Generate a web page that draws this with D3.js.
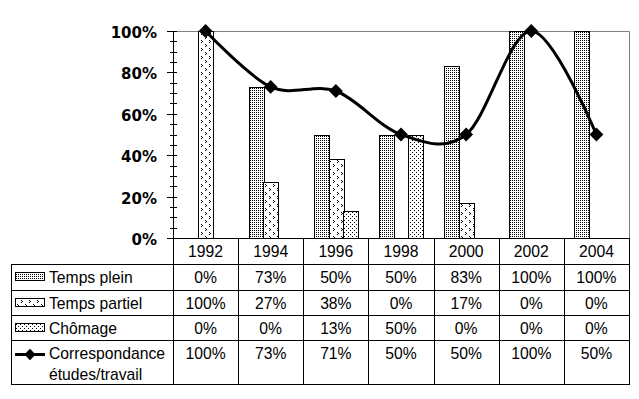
<!DOCTYPE html>
<html>
<head>
<meta charset="utf-8">
<script src="https://cdn.jsdelivr.net/npm/d3@7"></script>
<style>
  body { margin: 0; background: #fff; }
  svg { display: block; }
  .tbl text { font-family: "Liberation Sans", Arial, sans-serif; font-size: 15.7px; fill: #000; }
  .yax text { font-family: "DejaVu Sans", sans-serif; font-weight: bold; font-size: 15px; fill: #000; }
</style>
</head>
<body>
<script>
// data
var years = [ "1992", "1994", "1996", "1998", "2000", "2002", "2004" ];
var tempsPlein = [ 0, 0.73, 0.50, 0.50, 0.83, 1.00, 1.00 ];
var tempsPartiel = [ 1.00, 0.27, 0.38, 0, 0.17, 0, 0 ];
var chomage = [ 0, 0, 0.13, 0.50, 0, 0, 0 ];
var correspondance = [ 1.00, 0.73, 0.71, 0.50, 0.50, 1.00, 0.50 ];
var yTicks = [ 0, 0.2, 0.4, 0.6, 0.8, 1 ];

( function() {

var barSeries = [
  { name: "Temps plein", values: tempsPlein, fill: "url(#pPlein)" },
  { name: "Temps partiel", values: tempsPartiel, fill: "url(#pPartiel)" },
  { name: "Chômage", values: chomage, fill: "url(#pChomage)" }
];

var W = 639, H = 399;
var pLeft = 173, pRight = 629, pTop = 31, pBottom = 238;
var rowLines = [ 238, 264, 290, 315, 340, 384 ];
var tableLeft = 11;

var svg = d3.select( "body" ).append( "svg" ).attr( "width", W ).attr( "height", H );

// patterns
var defs = svg.append( "defs" );
function pattern( id, w, h, pixels ) {
  var p = defs.append( "pattern" ).attr( "id", id )
    .attr( "patternUnits", "userSpaceOnUse" ).attr( "width", w ).attr( "height", h );
  p.append( "rect" ).attr( "width", w ).attr( "height", h ).attr( "fill", "#fff" );
  pixels.forEach( function( px ) {
    p.append( "rect" ).attr( "x", px[ 0 ] ).attr( "y", px[ 1 ] )
      .attr( "width", 1 ).attr( "height", 1 ).attr( "fill", "#000" );
  } );
}
pattern( "pPlein", 2, 2, [ [ 0, 0 ] ] );
pattern( "pChomage", 4, 4, [ [ 0, 0 ], [ 2, 2 ] ] );
pattern( "pPartiel", 8, 8, [ [ 1, 0 ], [ 2, 1 ], [ 1, 2 ], [ 5, 4 ], [ 6, 5 ], [ 5, 6 ] ] );

var x = d3.scaleBand().domain( years ).range( [ pLeft, pRight ] );
var y = d3.scaleLinear().domain( [ 0, 1 ] ).range( [ pBottom, pTop ] );
var groupPad = 10.6;
var xs = d3.scaleBand().domain( barSeries.map( function( s ) { return s.name; } ) )
  .range( [ groupPad, x.bandwidth() - groupPad ] );

// plot area border (gray top and right)
svg.append( "path" )
  .attr( "d", "M" + pLeft + "," + ( pTop + 0.5 ) + "H" + ( pRight + 0.5 ) + "V" + pBottom )
  .attr( "fill", "none" ).attr( "stroke", "#808080" );

// bars
barSeries.forEach( function( s ) {
  svg.append( "g" ).selectAll( "rect" )
    .data( years.map( function( yr, i ) { return { year: yr, v: s.values[ i ] }; } )
      .filter( function( d ) { return d.v > 0; } ) )
    .join( "rect" )
    .attr( "x", function( d ) { return Math.round( x( d.year ) + xs( s.name ) ) + 0.5; } )
    .attr( "y", function( d ) { return Math.round( y( d.v ) ) + 0.5; } )
    .attr( "width", Math.round( xs.bandwidth() ) )
    .attr( "height", function( d ) { return pBottom - Math.round( y( d.v ) ); } )
    .attr( "fill", s.fill ).attr( "stroke", "#000" ).attr( "stroke-width", 1 );
} );

// y axis
var yax = svg.append( "g" ).attr( "class", "yax" );
yax.append( "line" ).attr( "x1", pLeft + 0.5 ).attr( "x2", pLeft + 0.5 )
  .attr( "y1", pTop ).attr( "y2", pBottom ).attr( "stroke", "#000" );
d3.range( 0, 1.0001, 0.05 ).forEach( function( t ) {
  var major = Math.abs( t * 5 - Math.round( t * 5 ) ) < 1e-6;
  var yy = Math.round( y( t ) ) + 0.5;
  yax.append( "line" ).attr( "x1", pLeft - ( major ? 6 : 3 ) ).attr( "x2", pLeft + 4 )
    .attr( "y1", yy ).attr( "y2", yy ).attr( "stroke", "#000" );
} );
yax.selectAll( "text" ).data( yTicks ).join( "text" )
  .attr( "x", 157 ).attr( "y", function( d ) { return y( d ) + 7; } )
  .attr( "text-anchor", "end" ).text( d3.format( ".0%" ) );

// smoothed line + markers
var line = d3.line()
  .x( function( d, i ) { return x( years[ i ] ) + x.bandwidth() / 2; } )
  .y( function( d ) { return y( d ); } )
  .curve( d3.curveCardinal.tension( 0 ) );
svg.append( "path" ).datum( correspondance ).attr( "d", line )
  .attr( "fill", "none" ).attr( "stroke", "#000" ).attr( "stroke-width", 3 );
var diamond = d3.symbol().type( d3.symbolSquare ).size( 96 );
svg.append( "g" ).selectAll( "path" ).data( correspondance ).join( "path" )
  .attr( "transform", function( d, i ) {
    return "translate(" + ( x( years[ i ] ) + x.bandwidth() / 2 ) + "," + y( d ) + ") rotate(45)";
  } )
  .attr( "d", diamond ).attr( "fill", "#000" );

// data table
var tbl = svg.append( "g" ).attr( "class", "tbl" );
var bounds = years.map( function( yr ) { return x( yr ); } ).concat( [ pRight ] );
tbl.append( "line" ).attr( "x1", pLeft ).attr( "x2", pRight + 1 )
  .attr( "y1", rowLines[ 0 ] + 0.5 ).attr( "y2", rowLines[ 0 ] + 0.5 ).attr( "stroke", "#000" );
rowLines.slice( 1 ).forEach( function( ry ) {
  tbl.append( "line" ).attr( "x1", tableLeft ).attr( "x2", pRight + 1 )
    .attr( "y1", ry + 0.5 ).attr( "y2", ry + 0.5 ).attr( "stroke", "#000" );
} );
bounds.forEach( function( bx ) {
  var xx = Math.round( bx ) + 0.5;
  tbl.append( "line" ).attr( "x1", xx ).attr( "x2", xx )
    .attr( "y1", rowLines[ 0 ] ).attr( "y2", rowLines[ 5 ] + 1 ).attr( "stroke", "#000" );
} );
tbl.append( "line" ).attr( "x1", tableLeft + 0.5 ).attr( "x2", tableLeft + 0.5 )
  .attr( "y1", rowLines[ 1 ] ).attr( "y2", rowLines[ 5 ] + 1 ).attr( "stroke", "#000" );

// year headers
tbl.selectAll( "text.yr" ).data( years ).join( "text" ).attr( "class", "yr" )
  .attr( "x", function( d ) { return x( d ) + x.bandwidth() / 2; } )
  .attr( "y", 257 ).attr( "text-anchor", "middle" ).text( function( d ) { return d; } );

var rows = barSeries.map( function( s ) { return { name: s.name, values: s.values, fill: s.fill }; } )
  .concat( [ { name: "Correspondance", name2: "études/travail", values: correspondance, line: true } ] );
var fmt = d3.format( ".0%" );
rows.forEach( function( r, ri ) {
  var base = ri < 3 ? ( rowLines[ ri + 1 ] + rowLines[ ri + 2 ] ) / 2 + 6 : 359;
  if( r.line ) {
    var ly = 354.5;
    tbl.append( "line" ).attr( "x1", 15 ).attr( "x2", 45 ).attr( "y1", ly ).attr( "y2", ly )
      .attr( "stroke", "#000" ).attr( "stroke-width", 3 );
    tbl.append( "path" ).attr( "d", d3.symbol().type( d3.symbolSquare ).size( 64 ) )
      .attr( "transform", "translate(30," + ly + ") rotate(45)" ).attr( "fill", "#000" );
  } else {
    var cy = ( rowLines[ ri + 1 ] + rowLines[ ri + 2 ] ) / 2;
    tbl.append( "rect" ).attr( "x", 15.5 ).attr( "y", Math.round( cy ) - 4.5 )
      .attr( "width", 29 ).attr( "height", 8 ).attr( "fill", r.fill ).attr( "stroke", "#000" );
  }
  tbl.append( "text" ).attr( "x", 49 ).attr( "y", base ).text( r.name );
  if( r.name2 ) {
    tbl.append( "text" ).attr( "x", 49 ).attr( "y", base + 21 ).text( r.name2 );
  }
  r.values.forEach( function( v, i ) {
    tbl.append( "text" ).attr( "x", x( years[ i ] ) + x.bandwidth() / 2 ).attr( "y", base )
      .attr( "text-anchor", "middle" ).text( fmt( v ) );
  } );
} );

} )();
</script>
</body>
</html>
